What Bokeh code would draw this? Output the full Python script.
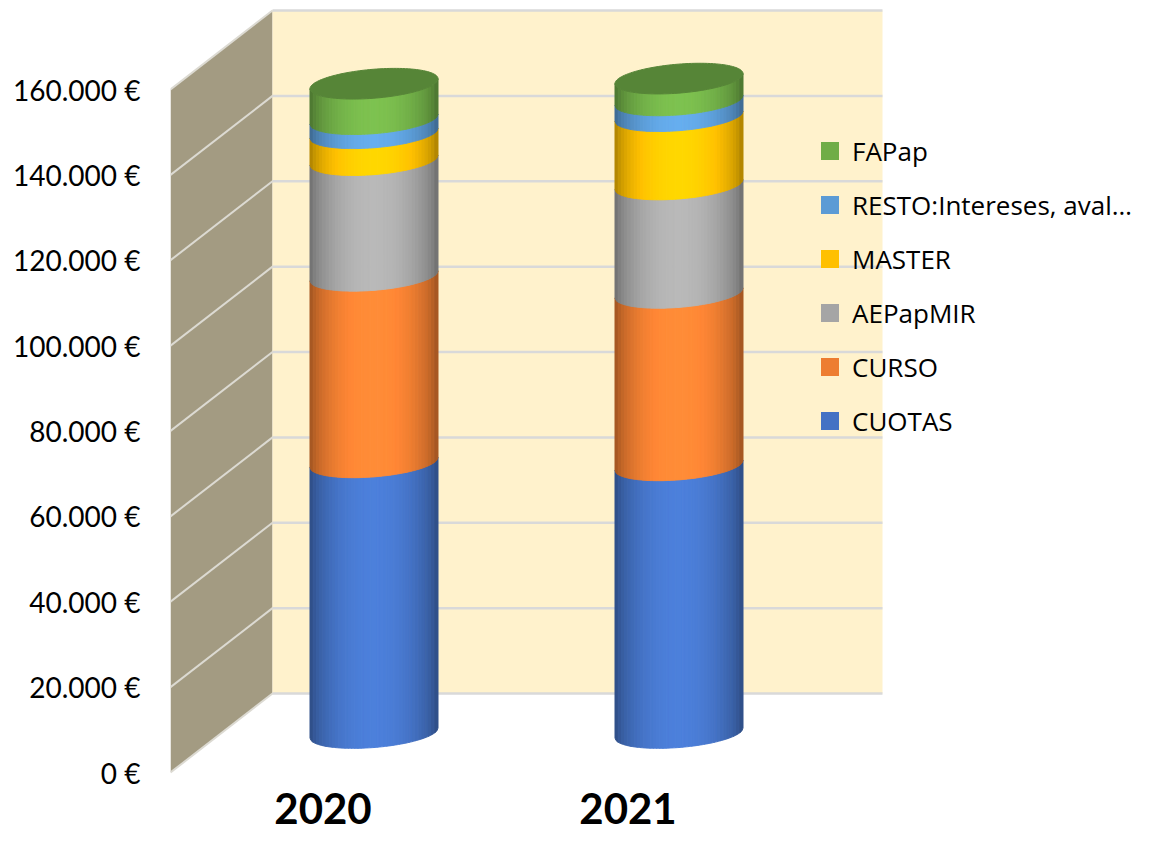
import numpy as np
from bokeh.plotting import figure
from bokeh.models import Range1d, FixedTicker, Legend, LegendItem
from bokeh.embed import file_html
from bokeh.resources import INLINE

# ---------------- data ----------------
CATEGORIES = ["2020", "2021"]
SERIES = ["CUOTAS", "CURSO", "AEPapMIR", "MASTER", "RESTO:Intereses, aval…", "FAPap"]
CUOTAS = [63400, 62700]
CURSO = [43700, 40400]
AEPAPMIR = [27100, 25400]
MASTER = [6300, 16000]
RESTO = [3300, 3700]
FAPAP = [8300, 5100]
COLORS = ["#4472C4", "#ED7D31", "#A5A5A5", "#FFC000", "#5B9BD5", "#70AD47"]
TICK_VALUES = [0, 20000, 40000, 60000, 80000, 100000, 120000, 140000, 160000]
TICK_LABELS = ["0 €", "20.000 €", "40.000 €", "60.000 €", "80.000 €",
               "100.000 €", "120.000 €", "140.000 €", "160.000 €"]
AXIS_MAX = 160000
STACK = [CUOTAS, CURSO, AEPAPMIR, MASTER, RESTO, FAPAP]

# ---------------- geometry (pixels) ----------------
W, H = 1139, 835
LEFT = 170
PX_PER_CAT = 305.0
PX_PER_VAL = 683.0 / AXIS_MAX
ORIGIN_FROM_BOTTOM = 63.0
DEPTH_PX = (102.0, 79.0)
CYL_DEPTH = 0.5
CYL_R_PX = 64.0
TILT_PX = 5.0
SEMI_PX = 14.5
XLABEL_PX_BELOW_ORIGIN = 12.0
NS = 40

frame_w = W - LEFT
ddx = DEPTH_PX[0] / PX_PER_CAT
ddy = DEPTH_PX[1] / PX_PER_VAL
ncat = len(CATEGORIES)

p = figure(width=W, height=H, output_backend="svg", toolbar_location=None,
           x_range=Range1d(-0.5, -0.5 + frame_w / PX_PER_CAT),
           y_range=Range1d(-ORIGIN_FROM_BOTTOM / PX_PER_VAL,
                           (H - ORIGIN_FROM_BOTTOM) / PX_PER_VAL),
           min_border_left=LEFT, min_border_right=0, min_border_top=0,
           min_border_bottom=0)
p.outline_line_color = None
p.background_fill_color = "white"
p.border_fill_color = "white"
p.xgrid.visible = False
p.ygrid.visible = False

# ---------------- walls ----------------
x_left = -0.5
x_right = ncat - 0.5
p.patch([x_left, x_left, x_left + ddx, x_left + ddx],
        [0, AXIS_MAX, AXIS_MAX + ddy, ddy],
        fill_color="#A39B82", line_color=None)
p.quad(left=[x_left + ddx], right=[x_right + ddx], bottom=[ddy], top=[AXIS_MAX + ddy],
       fill_color="#FFF2CC", line_color=None)
tv = np.array(TICK_VALUES, dtype=float)
p.segment(x0=[x_left + ddx] * len(tv), y0=tv + ddy, x1=[x_right + ddx] * len(tv), y1=tv + ddy,
          line_color="#D9D9D9", line_width=2.5)
p.segment(x0=[x_left] * len(tv), y0=tv, x1=[x_left + ddx] * len(tv), y1=tv + ddy,
          line_color="#DCDAD2", line_width=2)


# ---------------- cylinders ----------------
def shade(hex_color, f):
    rgb = [int(hex_color[k:k + 2], 16) for k in (1, 3, 5)]
    return "#%02x%02x%02x" % tuple(max(0, min(255, int(round(c * f)))) for c in rgb)


def shade_factor(u):
    return 0.62 + 0.50 * np.sin(np.pi * u) ** 0.55


r = CYL_R_PX / PX_PER_CAT
tilt = TILT_PX / PX_PER_VAL
semi = SEMI_PX / PX_PER_VAL

xs_all, ys_all, col_all = [], [], []
cap_xs, cap_ys, cap_col = [], [], []
for i in range(ncat):
    cx = i + CYL_DEPTH * ddx
    cum = CYL_DEPTH * ddy
    for vals, color in zip(STACK, COLORS):
        lo = cum
        hi = cum + vals[i]
        cum = hi
        for j in range(NS):
            cs = np.linspace(-1 + 2 * j / NS, -1 + 2 * (j + 1) / NS, 4)
            xs = cx + r * cs
            arc = tilt * cs - semi * np.sqrt(np.clip(1 - cs ** 2, 0, None))
            xs_all.append(list(xs) + list(xs[::-1]))
            ys_all.append(list(hi + arc) + list((lo + arc)[::-1]))
            col_all.append(shade(color, shade_factor((j + 0.5) / NS)))
    t = np.linspace(0, 2 * np.pi, 120)
    cap_xs.append(list(cx + r * np.cos(t)))
    cap_ys.append(list(cum + tilt * np.cos(t) + semi * np.sin(t)))
    cap_col.append(shade(COLORS[-1], 0.77))

p.patches(xs=xs_all, ys=ys_all, fill_color=col_all, line_color=col_all, line_width=1)
p.patches(xs=cap_xs, ys=cap_ys, fill_color=cap_col, line_color=cap_col, line_width=1)

# ---------------- legend ----------------
leg_items = []
for name, color in zip(SERIES, COLORS):
    rr = p.scatter(x=[-100.0], y=[-1e7], marker="square", size=18,
                   fill_color=color, line_color=None)
    leg_items.append(LegendItem(label=name, renderers=[rr]))
legend = Legend(items=leg_items[::-1], location=(637, 392),
                glyph_width=45, glyph_height=45, label_height=45, spacing=9,
                padding=0, margin=0, label_standoff=0,
                border_line_color=None, background_fill_alpha=0,
                label_text_font="Open Sans", label_text_font_size="26px",
                label_text_color="#000000")
p.add_layout(legend)

# ---------------- axes ----------------
ya = p.yaxis[0]
ya.ticker = FixedTicker(ticks=TICK_VALUES)
ya.major_label_overrides = {v: s for v, s in zip(TICK_VALUES, TICK_LABELS)}
ya.axis_line_color = None
ya.major_tick_line_color = None
ya.minor_tick_line_color = None
ya.major_tick_out = 0
ya.major_label_standoff = 30
ya.major_label_text_font = "Lato"
ya.major_label_text_font_size = "28px"
ya.major_label_text_color = "#000000"

xa = p.xaxis[0]
xa.ticker = FixedTicker(ticks=list(range(ncat)))
xa.major_label_overrides = {k: c for k, c in enumerate(CATEGORIES)}
xa.fixed_location = -XLABEL_PX_BELOW_ORIGIN / PX_PER_VAL
xa.axis_line_color = None
xa.major_tick_line_color = None
xa.minor_tick_line_color = None
xa.major_tick_out = 0
xa.major_label_standoff = 8
xa.major_label_text_font = "Lato"
xa.major_label_text_font_style = "bold"
xa.major_label_text_font_size = "42px"
xa.major_label_text_color = "#000000"

open("out.html", "w").write(file_html(p, INLINE))
